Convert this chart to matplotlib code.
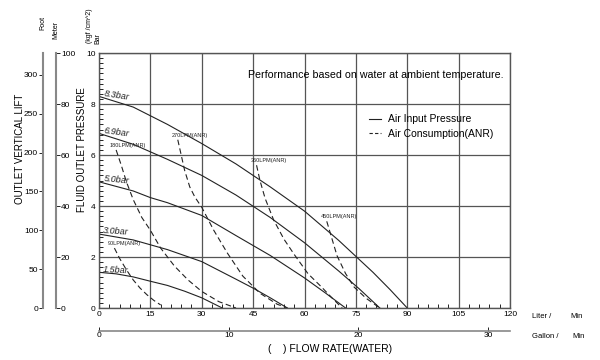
import matplotlib
matplotlib.use("Agg")
import matplotlib.pyplot as plt
from matplotlib.lines import Line2D
from matplotlib.ticker import MultipleLocator

plt.rcParams['font.family'] = ['Liberation Sans', 'DejaVu Sans']

# air input pressure curves: flow (L/min) -> fluid outlet pressure (bar)
p83_x = [0, 10, 20, 30, 40, 50, 60, 70, 80, 85, 90]
p83_y = [8.3, 7.88, 7.2, 6.45, 5.65, 4.75, 3.8, 2.65, 1.4, 0.72, 0]
p69_x = [0, 10, 20, 30, 40, 50, 60, 70, 76, 82]
p69_y = [6.85, 6.42, 5.83, 5.2, 4.43, 3.55, 2.56, 1.45, 0.75, 0]
p50_x = [0, 10, 15, 20, 30, 40, 50, 60, 66, 72]
p50_y = [4.95, 4.59, 4.33, 4.13, 3.63, 2.84, 2.06, 1.18, 0.6, 0]
p30_x = [0, 10, 15, 20, 30, 40, 45, 50, 55]
p30_y = [2.9, 2.67, 2.48, 2.29, 1.82, 1.13, 0.78, 0.4, 0]
p15_x = [0, 5, 10, 15, 20, 25, 30, 33, 36]
p15_y = [1.4, 1.34, 1.22, 1.05, 0.885, 0.66, 0.4, 0.2, 0]
pressure_names = ['8.3bar', '6.9bar', '5.0bar', '3.0bar', '1.5bar']

# air consumption curves (ANR)
a90_x = [4.5, 6, 8, 10, 12, 14, 16, 18]
a90_y = [2.35, 1.95, 1.5, 1.1, 0.78, 0.52, 0.3, 0.12]
a180_x = [5, 6.5, 8, 10, 12.5, 15, 18, 22, 26, 30, 35, 40]
a180_y = [6.2, 5.6, 4.95, 4.25, 3.55, 3.05, 2.35, 1.65, 1.1, 0.65, 0.25, 0]
a270_x = [23, 24, 25, 26.5, 28, 30, 33.5, 37.5, 42, 47, 52, 55]
a270_y = [6.6, 6.0, 5.4, 4.75, 4.35, 3.95, 3.05, 2.15, 1.25, 0.58, 0.15, 0]
a360_x = [46, 47, 48.5, 51, 54, 57, 61, 65, 68, 71]
a360_y = [5.6, 5.0, 4.3, 3.45, 2.7, 2.1, 1.35, 0.82, 0.4, 0]
a450_x = [66.5, 67.5, 69.5, 72, 74.5, 78, 82]
a450_y = [3.4, 2.95, 2.05, 1.35, 0.82, 0.38, 0]
air_names = ['90LPM(ANR)', '180LPM(ANR)', '270LPM(ANR)', '360LPM(ANR)', '450LPM(ANR)']

flow_ticks = [0, 15, 30, 45, 60, 75, 90, 105, 120]
gallon_ticks = [0, 10, 20, 30]
bar_ticks = [0, 2, 4, 6, 8, 10]
foot_ticks = [0, 50, 100, 150, 200, 250, 300]
meter_ticks = [0, 20, 40, 60, 80, 100]

L_PER_GAL = 3.785
FT_PER_M = 3.281

fig = plt.figure(figsize=(6, 3.6), dpi=100)
ax = fig.add_axes([0.165, 0.1444, 0.685, 0.7083])

pressure = [(p83_x, p83_y), (p69_x, p69_y), (p50_x, p50_y), (p30_x, p30_y), (p15_x, p15_y)]
air = [(a90_x, a90_y), (a180_x, a180_y), (a270_x, a270_y), (a360_x, a360_y), (a450_x, a450_y)]

for xs, ys in pressure:
    ax.plot(xs, ys, color='#222222', lw=0.8)
for xs, ys in air:
    ax.plot(xs, ys, color='#222222', lw=0.8, dashes=(5, 3))

# pressure labels sit on the start of each curve
rots = [-9, -8, -6, -4, -3]
for (xs, ys), name, r in zip(pressure, pressure_names, rots):
    ax.text(1.2, ys[0] - 0.05, name, fontsize=6.5, style='italic', rotation=r,
            rotation_mode='anchor', ha='left', va='bottom', color='#222222')

# air consumption labels above each dashed curve
for (xs, ys), name in zip(air, air_names):
    ax.text(xs[0] - 1.8, ys[0] + 0.17, name, fontsize=4, ha='left', va='center',
            color='#222222')

ax.set_xlim(0, 120)
ax.set_ylim(0, 10)
ax.set_xticks(flow_ticks)
ax.set_yticks(bar_ticks)
ax.xaxis.set_minor_locator(MultipleLocator(3))
ax.yaxis.set_minor_locator(MultipleLocator(0.2))
ax.tick_params(which='both', direction='in', labelsize=6)
ax.tick_params(axis='x', which='major', length=0, pad=2)
ax.tick_params(axis='y', which='major', length=0, pad=2.5)
ax.tick_params(which='minor', length=3, width=0.6)
ax.grid(True, which='major', color='#555555', lw=0.9)
for s in ax.spines.values():
    s.set_color('#555555')
    s.set_linewidth(1)

ax.text(0.674, 0.914, 'Performance based on water at ambient temperature.',
        transform=ax.transAxes, fontsize=7.7, ha='center', va='center')

handles = [Line2D([], [], color='#222222', lw=0.8),
           Line2D([], [], color='#222222', lw=0.8, dashes=(3, 2))]
ax.legend(handles, ['Air Input Pressure', 'Air Consumption(ANR)'],
          loc='upper left', bbox_to_anchor=(0.658, 0.76), frameon=False,
          fontsize=7.5, handlelength=1.15, handletextpad=0.6,
          labelspacing=0.45, borderpad=0, borderaxespad=0)

# gallon scale under the flow axis
gal = ax.secondary_xaxis(-0.09, functions=(lambda l: l / L_PER_GAL, lambda g: g * L_PER_GAL))
gal.set_xticks(gallon_ticks)
gal.tick_params(direction='in', length=3, width=0.6, labelsize=6, pad=1)
gal.spines['bottom'].set_color('#888888')
gal.spines['bottom'].set_linewidth(1.2)

# foot scale
ax_ft = fig.add_axes([43 / 600, 0.1444, 0.0001, 0.7083])
ax_ft.set_ylim(0, 100 * FT_PER_M)
ax_ft.set_yticks(foot_ticks)
ax_ft.set_xticks([])
ax_ft.patch.set_visible(False)
for s in ['top', 'bottom', 'right']:
    ax_ft.spines[s].set_visible(False)
ax_ft.spines['left'].set_color('#888888')
ax_ft.spines['left'].set_linewidth(1.5)
ax_ft.tick_params(axis='y', direction='out', length=3, width=0.6, labelsize=6, pad=0.5)

# meter scale
ax_m = fig.add_axes([56 / 600 - 0.0001, 0.1444, 0.0001, 0.7083])
ax_m.set_ylim(0, 100)
ax_m.set_yticks(meter_ticks)
ax_m.set_xticks([])
ax_m.patch.set_visible(False)
for s in ['top', 'bottom', 'left']:
    ax_m.spines[s].set_visible(False)
ax_m.spines['right'].set_color('#888888')
ax_m.spines['right'].set_linewidth(1.5)
ax_m.yaxis.tick_right()
ax_m.tick_params(axis='y', direction='out', length=3, width=0.6, labelsize=6, pad=0.5)

# axis titles and unit texts
fig.text(20 / 600, 1 - 149 / 360, 'OUTLET VERTICAL LIFT', rotation=90, fontsize=7,
         ha='center', va='center')
fig.text(82 / 600, 1 - 150 / 360, 'FLUID OUTLET PRESSURE', rotation=90, fontsize=7,
         ha='center', va='center')
fig.text(43 / 600, 1 - 23 / 360, 'Foot', rotation=90, fontsize=5, ha='center', va='center')
fig.text(56 / 600, 1 - 30 / 360, 'Meter', rotation=90, fontsize=5, ha='center', va='center')
fig.text(89.5 / 600, 1 - 26 / 360, '(kgf /cm^2)', rotation=90, fontsize=5, ha='center', va='center')
fig.text(97.5 / 600, 1 - 38 / 360, 'Bar', rotation=90, fontsize=5, ha='center', va='center')
fig.text(532 / 600, 1 - 316 / 360, 'Liter /', fontsize=5.5, ha='left', va='center')
fig.text(570 / 600, 1 - 316 / 360, 'Min', fontsize=5.5, ha='left', va='center')
fig.text(532 / 600, 1 - 337 / 360, 'Gallon /', fontsize=5.5, ha='left', va='center')
fig.text(572 / 600, 1 - 337 / 360, 'Min', fontsize=5.5, ha='left', va='center')
fig.text(330 / 600, 1 - 349 / 360, '(    ) FLOW RATE(WATER)', fontsize=7.5, ha='center', va='center')

fig.savefig('out.png', dpi=100)
